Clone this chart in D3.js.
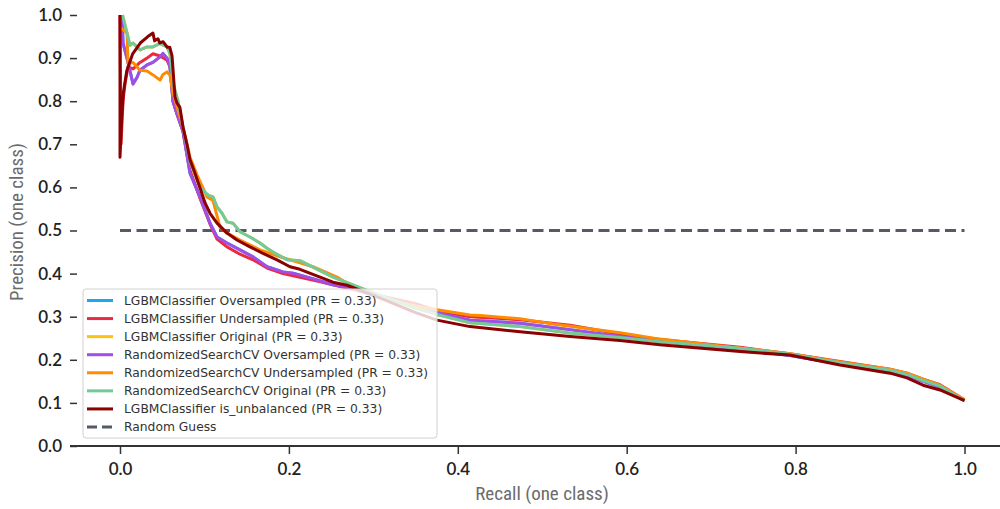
<!DOCTYPE html>
<html>
<head>
<meta charset="utf-8">
<script src="https://cdn.jsdelivr.net/npm/d3@7"></script>
<style>
  html, body { margin: 0; padding: 0; background: #fff; }
  svg { display: block; }
  .legend-text { font-family: "DejaVu Sans", Verdana, sans-serif; }
  .tick-text { font-family: Lato, "Open Sans", sans-serif; }
  .axis-label { font-family: "Liberation Sans Narrow", "Roboto Condensed", Lato, sans-serif; }
</style>
</head>
<body>
<svg id="chart" width="1000" height="509"></svg>
<script>
// ---------- data ----------
const seriesNames = [
  "LGBMClassifier Oversampled (PR = 0.33)",
  "LGBMClassifier Undersampled (PR = 0.33)",
  "LGBMClassifier Original (PR = 0.33)",
  "RandomizedSearchCV Oversampled (PR = 0.33)",
  "RandomizedSearchCV Undersampled (PR = 0.33)",
  "RandomizedSearchCV Original (PR = 0.33)",
  "LGBMClassifier is_unbalanced (PR = 0.33)"
];
const randomGuessName = "Random Guess";
const seriesColors = ["#1ca6f0", "#ea2a40", "#ffc00f", "#a24ee6", "#ff8c00", "#72c99a", "#8b0000"];

const xTicks = [0.0, 0.2, 0.4, 0.6, 0.8, 1.0];
const yTicks = [0.0, 0.1, 0.2, 0.3, 0.4, 0.5, 0.6, 0.7, 0.8, 0.9, 1.0];

const randomGuessRecall = [0, 1];
const randomGuessPrecision = [0.5, 0.5];

// RandomizedSearchCV Oversampled (purple)
const rsOverRecall = [0.0024, 0.0036, 0.0095, 0.0154, 0.0201, 0.0237, 0.032, 0.039, 0.0474, 0.0509, 0.0557, 0.0592, 0.0628, 0.0675, 0.0746, 0.0829, 0.0947, 0.1066, 0.1149, 0.1267, 0.1421, 0.1575, 0.1741, 0.193, 0.2049, 0.2333, 0.2522, 0.2723, 0.3, 0.35, 0.3754, 0.4144, 0.4737, 0.5329, 0.5921, 0.6394, 0.7342, 0.7934, 0.8526, 0.9118, 0.9319, 0.9509, 0.971, 1.0];
const rsOverPrecision = [1.0, 0.935, 0.89, 0.84, 0.855, 0.872, 0.884, 0.89, 0.903, 0.911, 0.90, 0.88, 0.80, 0.77, 0.73, 0.633, 0.578, 0.517, 0.485, 0.471, 0.455, 0.439, 0.416, 0.404, 0.401, 0.385, 0.374, 0.367, 0.35, 0.325, 0.31, 0.292, 0.285, 0.27, 0.254, 0.243, 0.224, 0.21, 0.19, 0.174, 0.164, 0.15, 0.137, 0.105];

// LGBMClassifier Oversampled (blue, hidden under purple)
const lgbmOverRecall = [0.0024, 0.0036, 0.0095, 0.0154, 0.0201, 0.0237, 0.032, 0.039, 0.0474, 0.0509, 0.0557, 0.0592, 0.0628, 0.0675, 0.0746, 0.0829, 0.0947, 0.1066, 0.1149, 0.1267, 0.1421, 0.1575, 0.1741, 0.193, 0.2049, 0.2333, 0.2522, 0.2723, 0.3, 0.35, 0.3754, 0.4144, 0.4737, 0.5329, 0.5921, 0.6394, 0.7342, 0.7934, 0.8526, 0.9118, 0.9319, 0.9509, 0.971, 1.0];
const lgbmOverPrecision = [1.0, 0.935, 0.89, 0.84, 0.855, 0.872, 0.884, 0.89, 0.903, 0.911, 0.90, 0.88, 0.80, 0.77, 0.73, 0.633, 0.578, 0.517, 0.485, 0.471, 0.455, 0.439, 0.416, 0.404, 0.401, 0.385, 0.374, 0.367, 0.35, 0.325, 0.31, 0.292, 0.285, 0.27, 0.254, 0.243, 0.224, 0.21, 0.19, 0.174, 0.164, 0.15, 0.137, 0.105];

// LGBMClassifier Undersampled (red)
const lgbmUnderRecall = [0, 0.0012, 0.0036, 0.0059, 0.0095, 0.0154, 0.0237, 0.032, 0.039, 0.0474, 0.0557, 0.0592, 0.0628, 0.0675, 0.0746, 0.0829, 0.0947, 0.1066, 0.1149, 0.1267, 0.1421, 0.1575, 0.1741, 0.193, 0.2333, 0.2723, 0.3, 0.35, 0.3754, 0.4144, 0.4737, 0.5329, 0.5921, 0.6394, 0.7342, 0.7934, 0.8526, 0.9118, 0.9319, 0.9509, 0.971, 1.0];
const lgbmUnderPrecision = [1.0, 0.70, 0.80, 0.84, 0.88, 0.875, 0.89, 0.90, 0.91, 0.905, 0.895, 0.88, 0.80, 0.77, 0.73, 0.64, 0.575, 0.515, 0.48, 0.462, 0.445, 0.432, 0.413, 0.40, 0.383, 0.365, 0.352, 0.33, 0.314, 0.30, 0.293, 0.28, 0.26, 0.247, 0.229, 0.214, 0.196, 0.178, 0.169, 0.155, 0.142, 0.107];

// RandomizedSearchCV Original (green)
const rsOrigRecall = [0.003, 0.0083, 0.0118, 0.0154, 0.0237, 0.032, 0.039, 0.0474, 0.0557, 0.0592, 0.0628, 0.0687, 0.0746, 0.0829, 0.0947, 0.1042, 0.1101, 0.1149, 0.1208, 0.1267, 0.1338, 0.1421, 0.1539, 0.1658, 0.1741, 0.1812, 0.1978, 0.2131, 0.2522, 0.2759, 0.3, 0.35, 0.3754, 0.4144, 0.4737, 0.5329, 0.5921, 0.6394, 0.7342, 0.7934, 0.8526, 0.9118, 0.9319, 0.9509, 0.971, 1.0];
const rsOrigPrecision = [1.0, 0.958, 0.93, 0.935, 0.919, 0.926, 0.926, 0.934, 0.926, 0.91, 0.842, 0.80, 0.74, 0.66, 0.60, 0.582, 0.578, 0.555, 0.54, 0.52, 0.517, 0.497, 0.485, 0.471, 0.459, 0.45, 0.432, 0.43, 0.392, 0.374, 0.355, 0.32, 0.305, 0.286, 0.277, 0.262, 0.252, 0.242, 0.227, 0.213, 0.193, 0.176, 0.166, 0.152, 0.139, 0.105];

// LGBMClassifier Original (yellow, hidden under green)
const lgbmOrigRecall = [0.003, 0.0083, 0.0118, 0.0154, 0.0237, 0.032, 0.039, 0.0474, 0.0557, 0.0592, 0.0628, 0.0687, 0.0746, 0.0829, 0.0947, 0.1042, 0.1101, 0.1149, 0.1208, 0.1267, 0.1338, 0.1421, 0.1539, 0.1658, 0.1741, 0.1812, 0.1978, 0.2131, 0.2522, 0.2759, 0.3, 0.35, 0.3754, 0.4144, 0.4737, 0.5329, 0.5921, 0.6394, 0.7342, 0.7934, 0.8526, 0.9118, 0.9319, 0.9509, 0.971, 1.0];
const lgbmOrigPrecision = [1.0, 0.958, 0.93, 0.935, 0.919, 0.926, 0.926, 0.934, 0.926, 0.91, 0.842, 0.80, 0.74, 0.66, 0.60, 0.582, 0.578, 0.555, 0.54, 0.52, 0.517, 0.497, 0.485, 0.471, 0.459, 0.45, 0.432, 0.43, 0.392, 0.374, 0.355, 0.32, 0.305, 0.286, 0.277, 0.262, 0.252, 0.242, 0.227, 0.213, 0.193, 0.176, 0.166, 0.152, 0.139, 0.105];

// RandomizedSearchCV Undersampled (orange)
const rsUnderRecall = [0.001, 0.0083, 0.0095, 0.0154, 0.0237, 0.032, 0.039, 0.0474, 0.0509, 0.0557, 0.0592, 0.0628, 0.0675, 0.0746, 0.0829, 0.0912, 0.103, 0.1101, 0.1184, 0.1267, 0.1421, 0.1658, 0.1895, 0.2131, 0.2285, 0.257, 0.2759, 0.3, 0.35, 0.3754, 0.4144, 0.4263, 0.4737, 0.4973, 0.5127, 0.5921, 0.6394, 0.7342, 0.7934, 0.8526, 0.9118, 0.9319, 0.9509, 0.971, 1.0];
const rsUnderPrecision = [0.97, 0.958, 0.888, 0.89, 0.872, 0.87, 0.861, 0.849, 0.862, 0.868, 0.86, 0.818, 0.787, 0.74, 0.67, 0.629, 0.578, 0.57, 0.508, 0.494, 0.478, 0.455, 0.439, 0.425, 0.416, 0.392, 0.369, 0.35, 0.325, 0.316, 0.304, 0.303, 0.295, 0.288, 0.283, 0.263, 0.248, 0.227, 0.214, 0.195, 0.178, 0.169, 0.155, 0.141, 0.107];

// LGBMClassifier is_unbalanced (dark red)
const unbalRecall = [0, 0, 0.002, 0.004, 0.008, 0.015, 0.024, 0.033, 0.039, 0.041, 0.045, 0.047, 0.051, 0.056, 0.059, 0.0616, 0.0651, 0.0675, 0.071, 0.0746, 0.0793, 0.0829, 0.0888, 0.0947, 0.1007, 0.1066, 0.1149, 0.1267, 0.1385, 0.1539, 0.1693, 0.1859, 0.2013, 0.2131, 0.2522, 0.2688, 0.2996, 0.3493, 0.3754, 0.4144, 0.4737, 0.5329, 0.5921, 0.6394, 0.7342, 0.7934, 0.8526, 0.9118, 0.9319, 0.9509, 0.971, 1.0];
const unbalPrecision = [1.0, 0.67, 0.76, 0.82, 0.87, 0.91, 0.935, 0.95, 0.958, 0.94, 0.945, 0.935, 0.938, 0.925, 0.925, 0.905, 0.81, 0.796, 0.785, 0.74, 0.70, 0.664, 0.633, 0.599, 0.564, 0.54, 0.517, 0.494, 0.478, 0.462, 0.447, 0.432, 0.416, 0.41, 0.38, 0.373, 0.35, 0.31, 0.292, 0.277, 0.265, 0.254, 0.245, 0.235, 0.219, 0.211, 0.188, 0.169, 0.158, 0.141, 0.13, 0.105];

const seriesRecall = [lgbmOverRecall, lgbmUnderRecall, lgbmOrigRecall, rsOverRecall, rsUnderRecall, rsOrigRecall, unbalRecall];
const seriesPrecision = [lgbmOverPrecision, lgbmUnderPrecision, lgbmOrigPrecision, rsOverPrecision, rsUnderPrecision, rsOrigPrecision, unbalPrecision];

// ---------- drawing ----------
const svg = d3.select("#chart");
const x = d3.scaleLinear().domain([0, 1]).range([120, 964.5]);
const y = d3.scaleLinear().domain([0, 1]).range([446, 15]);

const line = d3.line().x(d => x(d[0])).y(d => y(d[1]));

// random guess (dashed)
svg.append("path")
  .datum(d3.zip(randomGuessRecall, randomGuessPrecision))
  .attr("d", line)
  .attr("fill", "none")
  .attr("stroke", "#545b64")
  .attr("stroke-width", 3)
  .attr("stroke-dasharray", "11,5.5");

// curves
seriesNames.forEach((name, i) => {
  svg.append("path")
    .datum(d3.zip(seriesRecall[i], seriesPrecision[i]))
    .attr("d", line)
    .attr("fill", "none")
    .attr("stroke", seriesColors[i])
    .attr("stroke-width", 3)
    .attr("stroke-linejoin", "round")
    .attr("stroke-linecap", "butt");
});

// x axis
const xAxisG = svg.append("g").attr("transform", "translate(0,446)");
xAxisG.call(d3.axisBottom(x).tickValues(xTicks).tickFormat(d3.format(".1f")).tickSize(8).tickSizeOuter(0));
xAxisG.select(".domain").remove();
xAxisG.append("line").attr("x1", 70).attr("x2", 1000).attr("y1", 0).attr("y2", 0)
  .attr("stroke", "#333").attr("stroke-width", 2);
xAxisG.selectAll(".tick line").attr("stroke", "#333").attr("stroke-width", 1.5);
xAxisG.selectAll(".tick text")
  .attr("class", "tick-text")
  .attr("y", 17)
  .attr("font-size", 17)
  .attr("font-weight", 600)
  .attr("fill", "#222");

// y axis
const yAxisG = svg.append("g").attr("transform", "translate(77,0)");
yAxisG.call(d3.axisLeft(y).tickValues(yTicks).tickFormat(d3.format(".1f")).tickSize(7).tickSizeOuter(0).tickPadding(8));
yAxisG.select(".domain").remove();
yAxisG.selectAll(".tick line").attr("stroke", "#333").attr("stroke-width", 1.5);
yAxisG.selectAll(".tick text")
  .attr("class", "tick-text")
  .attr("font-size", 17)
  .attr("font-weight", 600)
  .attr("fill", "#222");

// axis labels
svg.append("text")
  .attr("class", "axis-label")
  .attr("x", 542).attr("y", 500)
  .attr("text-anchor", "middle")
  .attr("font-size", 19)
  .attr("fill", "#6b6b6b")
  .text("Recall (one class)");

svg.append("text")
  .attr("class", "axis-label")
  .attr("transform", "translate(23,222) rotate(-90)")
  .attr("text-anchor", "middle")
  .attr("font-size", 19)
  .attr("fill", "#6b6b6b")
  .text("Precision (one class)");

// legend
const legendX = 83, legendY = 289, legendW = 354, legendH = 149;
const legend = svg.append("g");
legend.append("rect")
  .attr("x", legendX).attr("y", legendY)
  .attr("width", legendW).attr("height", legendH)
  .attr("rx", 3).attr("ry", 3)
  .attr("fill", "rgba(255,255,255,0.8)")
  .attr("stroke", "#d0d0d0").attr("stroke-width", 1);

const legendItems = seriesNames.map((n, i) => ({ name: n, color: seriesColors[i], dash: null }))
  .concat([{ name: randomGuessName, color: "#545b64", dash: "10,5" }]);
const rowY = d3.scaleLinear().domain([0, 7]).range([300.5, 427]);

legendItems.forEach((it, i) => {
  const cy = rowY(i);
  legend.append("line")
    .attr("x1", 87).attr("x2", 113).attr("y1", cy).attr("y2", cy)
    .attr("stroke", it.color).attr("stroke-width", 3)
    .attr("stroke-dasharray", it.dash);
  legend.append("text")
    .attr("class", "legend-text")
    .attr("x", 124).attr("y", cy).attr("dy", "0.35em")
    .attr("font-size", 12.3)
    .attr("fill", "#333")
    .text(it.name);
});
</script>
</body>
</html>
